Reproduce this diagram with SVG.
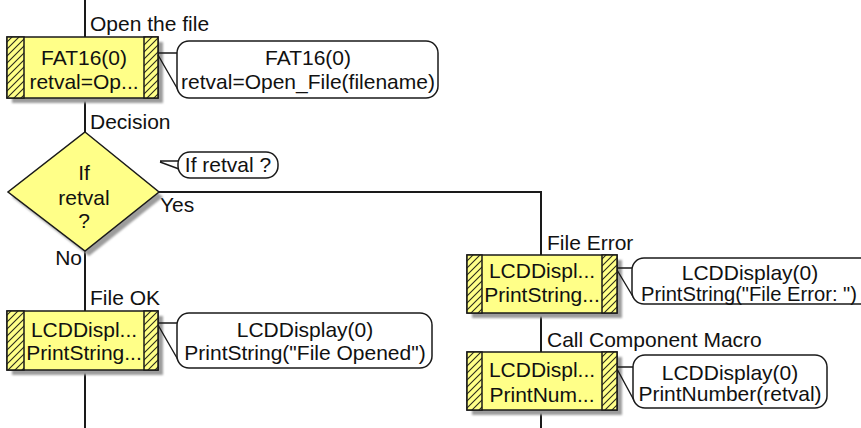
<svg xmlns="http://www.w3.org/2000/svg" width="861" height="428" viewBox="0 0 861 428">
  <style>
    .t { font-family: "Liberation Sans", Arial, sans-serif; font-size: 21px; fill: #111; }
    .c { text-anchor: middle; }
    .e { text-anchor: end; }
    .box { fill: #FFFF88; stroke: #1a1a1a; stroke-width: 1.5; }
    .panel { fill: url(#hatch); stroke: #1a1a1a; stroke-width: 1.5; }
    .shadow { fill: #9c9c9c; filter: url(#soft); }
    .note { fill: #fff; stroke: #1a1a1a; stroke-width: 1.5; }
    .ptr { fill: none; stroke: #1a1a1a; stroke-width: 1.4; }
    .wire { fill: none; stroke: #1a1a1a; stroke-width: 2; }
  </style>
  <defs>
    <!-- diagonal hatching for the side panels of call blocks -->
    <pattern id="hatch" patternUnits="userSpaceOnUse" width="7" height="7">
      <rect width="7" height="7" fill="#FFFF88"/>
      <path d="M-1,1 l2,-2 M0,7 l7,-7 M6,8 l2,-2" stroke="#2a2a1a" stroke-width="1.1"/>
    </pattern>
    <filter id="soft" x="-10%" y="-10%" width="120%" height="120%">
      <feGaussianBlur stdDeviation="1.2"/>
    </filter>
  </defs>
  <rect width="861" height="428" fill="#fff"/>

  <!-- flow lines -->
  <g id="connectors">
    <path class="wire" d="M85,0 V37"/>
    <path class="wire" d="M85,98 V132"/>
    <path class="wire" d="M85,251 V311"/>
    <path class="wire" d="M85,370 V428"/>
    <path class="wire" d="M159,192 H541 V428"/>
  </g>

  <!-- edge and step labels -->
  <g id="labels">
    <text class="t" x="90" y="31">Open the file</text>
    <text class="t" x="90" y="129">Decision</text>
    <text class="t" x="160" y="212">Yes</text>
    <text class="t e" x="82" y="265">No</text>
    <text class="t" x="90" y="305">File OK</text>
    <text class="t" x="547" y="250">File Error</text>
    <text class="t" x="547" y="347">Call Component Macro</text>
  </g>

  <!-- call: FAT16 open -->
  <g id="open_file">
    <rect class="shadow" x="12" y="42" width="151" height="61"/>
    <rect class="box" x="7" y="37" width="151" height="61"/>
    <rect class="panel" x="7" y="37" width="17" height="61"/>
    <rect class="panel" x="144" y="37" width="14" height="61"/>
    <text class="t c" x="84" y="65">FAT16(0)</text>
    <text class="t c" x="84" y="89">retval=Op...</text>
  </g>
  <g id="open_file_note">
    <path class="ptr" d="M158,53 H178 M158,55 L181,95"/>
    <rect class="note" x="177" y="41" width="261" height="57" rx="12"/>
    <text class="t c" x="308" y="65">FAT16(0)</text>
    <text class="t c" x="308" y="89">retval=Open_File(filename)</text>
  </g>

  <!-- decision -->
  <g id="decision">
    <polygon class="shadow" points="89,137 163,197 89,256 12,197"/>
    <polygon class="box" points="85,132 159,192 85,251 8,192"/>
    <text class="t c" x="84" y="180">If</text>
    <text class="t c" x="84" y="205">retval</text>
    <text class="t c" x="84" y="228">?</text>
  </g>
  <g id="decision_note">
    <path class="ptr" d="M160,161 H179 M160,162 L179,169"/>
    <rect class="note" x="178" y="152" width="100" height="26" rx="12"/>
    <text class="t c" x="228" y="172">If retval ?</text>
  </g>

  <!-- call: print opened -->
  <g id="file_ok">
    <rect class="shadow" x="12" y="316" width="151" height="59"/>
    <rect class="box" x="7" y="311" width="151" height="59"/>
    <rect class="panel" x="7" y="311" width="17" height="59"/>
    <rect class="panel" x="144" y="311" width="14" height="59"/>
    <text class="t c" x="84" y="337">LCDDispl...</text>
    <text class="t c" x="84" y="360">PrintString...</text>
  </g>
  <g id="file_ok_note">
    <path class="ptr" d="M158,323 H178 M158,325 L181,365"/>
    <rect class="note" x="177" y="313" width="255" height="55" rx="12"/>
    <text class="t c" x="305" y="337">LCDDisplay(0)</text>
    <text class="t c" x="305" y="360">PrintString("File Opened")</text>
  </g>

  <!-- call: print error -->
  <g id="file_error">
    <rect class="shadow" x="472" y="260" width="150" height="58"/>
    <rect class="box" x="467" y="255" width="150" height="58"/>
    <rect class="panel" x="467" y="255" width="15" height="58"/>
    <rect class="panel" x="602" y="255" width="15" height="58"/>
    <text class="t c" x="542" y="278">LCDDispl...</text>
    <text class="t c" x="542" y="302">PrintString...</text>
  </g>
  <g id="file_error_note">
    <path class="ptr" d="M617,268 H633 M617,270 L635,300"/>
    <rect class="note" x="632" y="258" width="240" height="46" rx="12"/>
    <text class="t c" x="750" y="280">LCDDisplay(0)</text>
    <text class="t" x="641" y="301" textLength="216" lengthAdjust="spacingAndGlyphs">PrintString("File Error: ")</text>
  </g>

  <!-- call: print number -->
  <g id="print_number">
    <rect class="shadow" x="472" y="357" width="150" height="58"/>
    <rect class="box" x="467" y="352" width="150" height="58"/>
    <rect class="panel" x="467" y="352" width="15" height="58"/>
    <rect class="panel" x="602" y="352" width="15" height="58"/>
    <text class="t c" x="542" y="377">LCDDispl...</text>
    <text class="t c" x="542" y="402">PrintNum...</text>
  </g>
  <g id="print_number_note">
    <path class="ptr" d="M617,367 H634 M617,369 L636,404"/>
    <rect class="note" x="633" y="355" width="194" height="53" rx="12"/>
    <text class="t c" x="730" y="380">LCDDisplay(0)</text>
    <text class="t c" x="730" y="401">PrintNumber(retval)</text>
  </g>
</svg>
